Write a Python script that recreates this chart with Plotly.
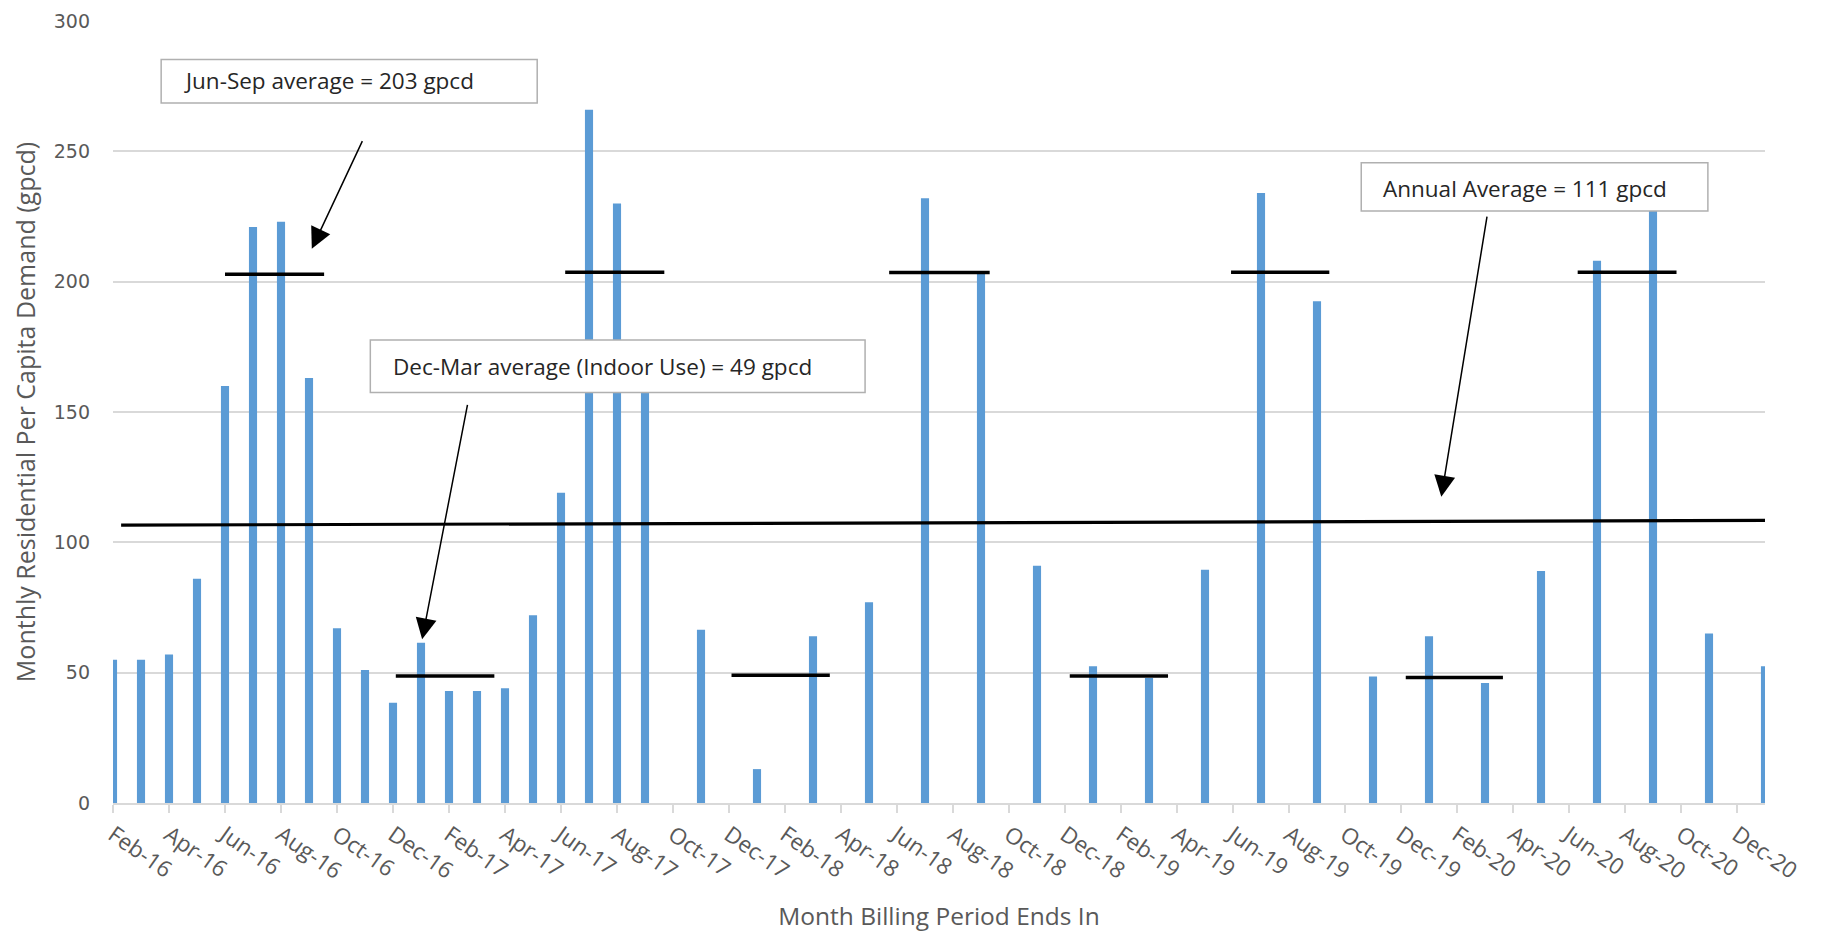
import plotly.graph_objects as go

# ---------------- data ----------------
months = ["Feb-16", "Mar-16", "Apr-16", "May-16", "Jun-16", "Jul-16", "Aug-16", "Sep-16",
          "Oct-16", "Nov-16", "Dec-16", "Jan-17", "Feb-17", "Mar-17", "Apr-17", "May-17",
          "Jun-17", "Jul-17", "Aug-17", "Sep-17", "Oct-17", "Nov-17", "Dec-17", "Jan-18",
          "Feb-18", "Mar-18", "Apr-18", "May-18", "Jun-18", "Jul-18", "Aug-18", "Sep-18",
          "Oct-18", "Nov-18", "Dec-18", "Jan-19", "Feb-19", "Mar-19", "Apr-19", "May-19",
          "Jun-19", "Jul-19", "Aug-19", "Sep-19", "Oct-19", "Nov-19", "Dec-19", "Jan-20",
          "Feb-20", "Mar-20", "Apr-20", "May-20", "Jun-20", "Jul-20", "Aug-20", "Sep-20",
          "Oct-20", "Nov-20", "Dec-20", "Jan-21"]

demand_gpcd = [55, 55, 57, 86, 160, 221, 223, 163,
               67, 51, 38.5, 61.5, 43, 43, 44, 72,
               119, 266, 230, 170, None, 66.5, None, 13,
               None, 64, None, 77, None, 232, None, 203,
               None, 91, None, 52.5, None, 48, None, 89.5,
               None, 234, None, 192.5, None, 48.5, None, 64,
               None, 46, None, 89, None, 208, None, 240,
               None, 65, None, 52.5]

tick_labels = ["Feb-16", "Apr-16", "Jun-16", "Aug-16", "Oct-16", "Dec-16",
               "Feb-17", "Apr-17", "Jun-17", "Aug-17", "Oct-17", "Dec-17",
               "Feb-18", "Apr-18", "Jun-18", "Aug-18", "Oct-18", "Dec-18",
               "Feb-19", "Apr-19", "Jun-19", "Aug-19", "Oct-19", "Dec-19",
               "Feb-20", "Apr-20", "Jun-20", "Aug-20", "Oct-20", "Dec-20"]

y_ticks = [0, 50, 100, 150, 200, 250, 300]

# hand-drawn average markers (x in month-index units, y in gpcd)
summer_x0 = [4.0, 16.15, 27.72, 39.93, 52.31]
summer_x1 = [7.54, 19.69, 31.31, 43.44, 55.84]
summer_y = [202.8, 203.6, 203.5, 203.6, 203.6]

winter_x0 = [10.1, 22.09, 34.17, 46.17]
winter_x1 = [13.62, 25.6, 37.68, 49.64]
winter_y = [48.7, 49.0, 48.7, 48.1]

annual_x = [0.29, 59.0]
annual_y = [106.6, 108.4]

notes = ["Jun-Sep average = 203 gpcd",
         "Dec-Mar average (Indoor Use) = 49 gpcd",
         "Annual Average = 111 gpcd"]

# ---------------- figure ----------------
BAR = "#5b9bd5"
GRID = "#d9d9d9"
AXTXT = "#595959"

fig = go.Figure()
fig.add_trace(go.Bar(x=months, y=demand_gpcd, width=0.29,
                     marker=dict(color=BAR, line=dict(width=0)),
                     showlegend=False))

# average markers as line shapes on the data axes
for x0s, x1s, ys in [(summer_x0, summer_x1, summer_y), (winter_x0, winter_x1, winter_y)]:
    for a, b, c in zip(x0s, x1s, ys):
        fig.add_shape(type="line", xref="x", yref="y", x0=a, x1=b, y0=c, y1=c,
                      line=dict(color="black", width=3.5), layer="above")
fig.add_shape(type="line", xref="x", yref="y", x0=annual_x[0], x1=annual_x[1],
              y0=annual_y[0], y1=annual_y[1], line=dict(color="black", width=3.2), layer="above")

# callout boxes
boxes = [(1.72, 15.15, 268.5, 285.2), (9.19, 26.86, 157.5, 177.6), (44.58, 56.96, 227.1, 245.6)]
text_pos = [(2.48, 277.0), (9.92, 167.6), (45.29, 235.9)]
for (x0, x1, y0, y1) in boxes:
    fig.add_shape(type="rect", xref="x", yref="y", x0=x0, x1=x1, y0=y0, y1=y1,
                  line=dict(color="#b0b0b0", width=1.5), fillcolor="white", layer="above")
for (tx, ty), t in zip(text_pos, notes):
    fig.add_annotation(x=tx, y=ty, xref="x", yref="y", text=t, showarrow=False,
                       xanchor="left", yanchor="middle",
                       font=dict(family="Open Sans", size=22.5, color="#262626"))

arrows = [((7.10, 212.6), (8.93, 254.5)),
          ((11.04, 62.8), (12.67, 153.3)),
          ((47.44, 117.5), (49.08, 225.5))]
for (hx, hy), (tx, ty) in arrows:
    fig.add_annotation(x=hx, y=hy, ax=tx, ay=ty, xref="x", yref="y", axref="x", ayref="y",
                       text="", showarrow=True, arrowhead=2, arrowsize=2.8, arrowwidth=1.5,
                       arrowcolor="black", standoff=0)

# page body adds an 8px margin; size figure so the plot area lands where the reference has it
fig.update_layout(
    width=1815, height=924,
    margin=dict(l=105, r=58, t=13, b=129, autoexpand=False),
    paper_bgcolor="white", plot_bgcolor="white",
    bargap=0.71,
    font=dict(family="Open Sans", color=AXTXT),
)
fig.update_xaxes(type="category", range=[0, 59], tickmode="array", tickvals=tick_labels,
                 ticktext=tick_labels, tickangle=35, automargin=False,
                 tickfont=dict(family="Open Sans", size=22.5, color=AXTXT),
                 ticks="outside", ticklen=8, tickwidth=1.5, tickcolor=GRID,
                 showline=True, linecolor=GRID, linewidth=2, showgrid=False,
                 title=dict(text="Month Billing Period Ends In",
                            font=dict(family="Open Sans", size=24.5, color=AXTXT), standoff=25))
fig.update_yaxes(range=[0, 300], tickmode="array", tickvals=y_ticks, automargin=False,
                 tickfont=dict(family="DejaVu Sans", size=19, color=AXTXT),
                 showgrid=True, gridcolor=GRID, gridwidth=1.5, zeroline=False,
                 showline=False, ticks="", ticklabelstandoff=22,
                 title=dict(text="Monthly Residential Per Capita Demand (gpcd)",
                            font=dict(family="Open Sans", size=25, color=AXTXT), standoff=10))

fig.write_html("out.html")
